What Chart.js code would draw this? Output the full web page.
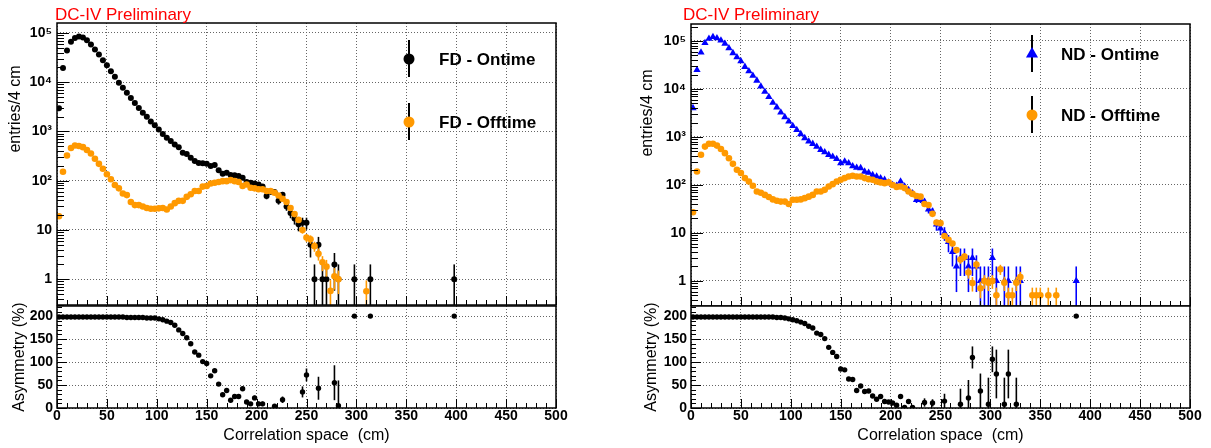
<!DOCTYPE html>
<html>
<head>
<meta charset="utf-8">
<title>DC-IV Preliminary</title>
<script src="https://cdn.jsdelivr.net/npm/chart.js@4.4.1/dist/chart.umd.min.js"></script>
<style>
  html, body { margin: 0; padding: 0; background: #fff; }
  #wrap { position: relative; width: 1211px; height: 448px; overflow: hidden; }
  canvas { position: absolute; }
</style>
</head>
<body>
<div id="wrap">
  <canvas id="fdTop" width="605" height="306" style="left:0;top:0"></canvas>
  <canvas id="fdBot" width="605" height="148" style="left:0;top:300px"></canvas>
  <canvas id="ndTop" width="577" height="306" style="left:634px;top:0"></canvas>
  <canvas id="ndBot" width="577" height="148" style="left:634px;top:300px"></canvas>
</div>
<script>
// Colores
const onColor = '#000000'
const offColor = '#ff9900'
const ndColor = '#0000ff'
const gridColor = '#666666'

// Centros de bin (cm): bins de 4 cm, el indice i corresponde a 2 + 4*i
const binCenters = []
for (let c = 2; c < 500; c += 4) binCenters.push(c)

// FD - Ontime (entradas / 4 cm)
const fdOn = [
  2950, 19500, 44000, 66000, 79000, 85000, 81000, 71000, 58000, 46000,   // 2-38
  36500, 28000, 22000, 16700, 12900, 9700, 7700, 6100, 4750, 3800,      // 42-78
  3000, 2400, 1990, 1590, 1330, 1100, 890, 745, 640, 545,                // 82-118
  480, 370, 350, 293, 250, 230, 225, 220, 200, 208,                      // 122-158
  163, 139, 145, 130, 129, 124, 115, 94, 91, 88,                         // 162-198
  84, 76, 49, 60, 59, 39, 52, 30, 22, 17,                                // 202-238
  13, 14, 14, 5, 1, 5, 1, 1, null, 2,                                    // 242-278
  1, null, null, null, 1, null, null, null, 1, null,                     // 282-318
  null, null, null, null, null, null, null, null, null, null,            // 322-358
  null, null, null, null, null, null, null, null, null, 1                // 362-398
]

// FD - Offtime
const fdOff = [
  19, 152, 325, 460, 520, 505, 480, 420, 357, 280,
  220, 175, 135, 107, 82, 70, 55, 51, 37, 32,
  32, 30, 28, 27, 27, 27.5, 28, 26, 30, 35,
  39, 39, 47, 53, 62, 62, 76, 78, 88, 91,
  94, 98, 98, 103, 98, 94, 78, 84, 72, 70,
  67, 67, 62, 62, 57, 50, 43, 37, 28, 21,
  16, 10, 7, 6.5, 4.7, 3.3, 2.2, 1.8, 0.58, 1.15,
  1.0, null, null, null, null, null, null, 0.57
]

// FD - Asimetria (%) y su error
const fdAsym = [
  198, 198, 198, 198, 198, 198, 198, 198, 198, 198,
  198, 198, 198, 198, 198, 198, 198, 197, 197, 197,
  197, 197, 196, 196, 196, 194, 192, 189, 186, 180,
  170, 162, 153, 140, 122, 115, 101, 97, 70, 81,
  52, 29, 38, 17, 25, 25, 42, 13, 9, 22,
  9, 9, null, null, 4, null, 18, null, null, null,
  null, 35, 72, null, null, 43, null, null, null, 55,
  5, null, null, null, 200, null, null, null, 200, null,
  null, null, null, null, null, null, null, null, null, null,
  null, null, null, null, null, null, null, null, null, 200
]
const fdAsymErr = [
  0, 0, 0, 0, 0, 0, 0, 0, 0, 0,
  0, 0, 0, 0, 0, 0, 0, 0, 0, 0,
  0, 0, 0, 0, 0, 0, 0, 0, 0, 0,
  0, 0, 0, 0, 0, 0, 2, 2, 3, 3,
  3, 4, 4, 4, 4, 4, 5, 4, 4, 5,
  5, 5, 0, 0, 4, 0, 7, 0, 0, 0,
  0, 12, 14, 0, 0, 25, 0, 0, 0, 38,
  55
]

// ND - Ontime
const ndOn = [
  4000, 25000, 58000, 91000, 112000, 121000, 115000, 103000, 88000, 71000,  // 2-38
  56000, 46000, 38000, 29000, 23500, 19000, 15000, 11300, 8800, 6800,       // 42-78
  5200, 4150, 3250, 2600, 2100, 1700, 1400, 1150, 950, 810,                  // 82-118
  720, 630, 540, 480, 425, 390, 350, 285, 310, 285,                          // 122-158
  245, 230, 225, 190, 180, 162, 150, 139, 128, 113,                          // 162-198
  100, 96, 118, 93, 79, 67, 49, 49, 45, 31,                                  // 202-238
  28, 15, 12.5, 10, 6.5, 4, 2, 3, 3, 2,                                      // 242-278
  3, 2, 1, 1, 1, 3, 1, null, 1, 1,                                           // 282-318
  null, 1, 1, null, null, null, null, null, null, null,                      // 322-358
  null, null, null, null, null, null, 1                                      // 362-386
]

// ND - Offtime
const ndOff = [
  27, 190, 425, 630, 720, 720, 660, 560, 460, 360,
  275, 207, 177, 139, 118, 96, 73, 69, 62, 56,
  50, 47, 45, 45, 40, 49, 49, 50, 53, 57,
  62, 73, 73, 79, 93, 104, 118, 128, 139, 150,
  155, 150, 150, 139, 132, 128, 118, 113, 109, 113,
  100, 91, 93, 86, 73, 65, 59, 57, 40, 38,
  25, 16.5, 16, 8.6, 7.2, 6, 4.4, 2.8, 3.2, 1.5,
  0.9, 2.2, 0.7, 1, 0.92, 1, 0.5, 1.75, 0.92, 0.5,
  0.5, 0.92, 1.2, null, null, 0.5, 0.5, 0.5, null, 0.5,
  null, 0.5
]

// ND - Asimetria (%) y su error
const ndAsym = [
  198, 198, 198, 198, 198, 198, 198, 198, 198, 198,
  198, 198, 198, 198, 198, 198, 198, 198, 198, 198,
  198, 197, 197, 196, 194, 192, 190, 187, 184, 178,
  174, 163, 160, 151, 132, 121, 112, 85, 83, 63,
  62, 38, 48, 36, 37, 26, 19, 25, 14, 13,
  11, 6, 25, 1, 14, 1, null, null, 12, null,
  11, null, null, 15, null, null, null, 8, null, 22,
  110, null, 37, null, 8, 106, 74, null, 8, 74,
  null, 8, null, null, null, null, null, null, null, null,
  null, null, null, null, null, null, 200
]
const ndAsymErr = [
  0, 0, 0, 0, 0, 0, 0, 0, 0, 0,
  0, 0, 0, 0, 0, 0, 0, 0, 0, 0,
  0, 0, 0, 0, 0, 0, 0, 0, 0, 0,
  0, 0, 0, 0, 0, 0, 2, 2, 3, 3,
  3, 3, 3, 3, 3, 4, 4, 4, 4, 4,
  3, 3, 4, 2, 5, 2, 0, 0, 9, 0,
  8, 0, 0, 16, 0, 0, 0, 34, 0, 39,
  24, 0, 38, 0, 58, 28, 53, 0, 58, 53,
  0, 58
]

// Etiquetas de ejes
const logTicks = [1, 10, 100, 1000, 10000, 100000]
const logLabels = ['1', '10', '10\u00b2', '10\u00b3', '10\u2074', '10\u2075']
const asymTicks = [0, 50, 100, 150, 200]
const xTicks = [0, 50, 100, 150, 200, 250, 300, 350, 400, 450, 500]

const fontFamily = '"Liberation Sans", Arial, Helvetica, sans-serif'
Chart.defaults.font.family = fontFamily
Chart.defaults.color = '#000'

// Convierte un array por bin en puntos {x, y, e}
function binPoints(values, errScale, errors) {
  const pts = []
  values.forEach((v, i) => {
    if (v === null || v === undefined) return
    const e = errors ? (errors[i] || 0) : Math.sqrt(v * errScale)
    pts.push({ x: binCenters[i], y: v, e: e })
  })
  return pts
}

// Plugin: barras de error, marco estilo ROOT, marcas internas, textos y leyenda
const rootStyle = {
  id: 'rootStyle',
  beforeDatasetDraw(chart, args) {
    const ds = chart.data.datasets[args.index]
    const ys = chart.scales.y
    const a = chart.chartArea
    const ctx = chart.ctx
    ctx.save()
    ctx.beginPath()
    ctx.rect(a.left, a.top, a.right - a.left, a.bottom - a.top)
    ctx.clip()
    ctx.strokeStyle = ds.borderColor
    ctx.lineWidth = 1.6
    args.meta.data.forEach((pt, i) => {
      const d = ds.data[i]
      if (!d || !d.e) return
      const lo = d.y - d.e
      const yLo = lo > ys.min ? ys.getPixelForValue(lo) : a.bottom
      const yHi = ys.getPixelForValue(Math.min(d.y + d.e, ys.max))
      ctx.beginPath()
      ctx.moveTo(pt.x, yLo)
      ctx.lineTo(pt.x, yHi)
      ctx.stroke()
    })
    ctx.restore()
  },
  afterDraw(chart, args, opts) {
    const ctx = chart.ctx
    const a = chart.chartArea
    const xs = chart.scales.x
    const ys = chart.scales.y
    ctx.save()
    ctx.strokeStyle = '#000'
    ctx.lineWidth = 1
    const seg = (x1, y1, x2, y2) => {
      ctx.beginPath(); ctx.moveTo(x1, y1); ctx.lineTo(x2, y2); ctx.stroke()
    }
    // marcas del eje x (dentro del marco)
    for (let v = 0; v <= 500; v += 10) {
      const px = Math.round(xs.getPixelForValue(v)) + 0.5
      seg(px, a.bottom, px, a.bottom - (v % 50 === 0 ? 9 : 5))
    }
    // marcas del eje y
    if (ys.type === 'logarithmic') {
      for (let e = -1; e <= 5; e++) {
        for (let m = 1; m <= 9; m++) {
          const v = m * Math.pow(10, e)
          if (v < ys.min || v > ys.max) continue
          const py = Math.round(ys.getPixelForValue(v)) + 0.5
          seg(a.left, py, a.left + (m === 1 ? 12 : 7), py)
        }
      }
    } else {
      for (let v = 0; v <= ys.max; v += 10) {
        const py = Math.round(ys.getPixelForValue(v)) + 0.5
        seg(a.left, py, a.left + (v % 50 === 0 ? 10 : 5), py)
      }
    }
    // marco
    ctx.lineWidth = 1.5
    ctx.strokeRect(a.left, a.top, a.right - a.left, a.bottom - a.top)

    // textos libres
    ;(opts.texts || []).forEach(t => {
      ctx.save()
      ctx.font = t.font
      ctx.fillStyle = t.color || '#000'
      ctx.textAlign = t.align || 'left'
      ctx.textBaseline = 'middle'
      ctx.translate(t.x, t.y)
      if (t.rotate) ctx.rotate(-Math.PI / 2)
      ctx.fillText(t.text, 0, 0)
      ctx.restore()
    })

    // leyenda: marcador con barra de error vertical y texto en negrita
    ;(opts.legend || []).forEach(it => {
      ctx.strokeStyle = '#000'
      ctx.lineWidth = 2
      seg(it.x, it.y - 19, it.x, it.y + 18)
      ctx.fillStyle = it.color
      ctx.strokeStyle = it.color
      Chart.helpers.drawPoint(ctx, { pointStyle: it.style, radius: it.r, borderWidth: 0, rotation: 0 }, it.x, it.y)
      ctx.fillStyle = '#000'
      ctx.font = 'bold 17px ' + fontFamily
      ctx.textAlign = 'left'
      ctx.textBaseline = 'middle'
      ctx.fillText(it.label, it.textX, it.y + 1)
    })
    ctx.restore()
  }
}

const tickFont = { family: fontFamily, size: 14, weight: 'bold' }

// Quita el margen extra que Chart.js reserva para las etiquetas
function fixY(s) {
  s.width = 57
  s.paddingTop = 0
  s.paddingBottom = 0
}

function xScale(withLabels) {
  return {
    type: 'linear',
    min: 0,
    max: 500,
    afterBuildTicks: s => { s.ticks = xTicks.map(v => ({ value: v })) },
    afterFit: s => {
      s.height = withLabels ? 40 : 0
      s.paddingLeft = 0
      s.paddingRight = 0
    },
    grid: { color: gridColor, lineWidth: 1, drawTicks: false },
    border: { display: false, dash: [1, 2] },
    ticks: { display: withLabels, font: tickFont, padding: 0, maxRotation: 0 },
    title: {
      display: withLabels,
      text: 'Correlation space  (cm)',
      font: { family: fontFamily, size: 16 },
      padding: { top: 0, bottom: 3 }
    }
  }
}

function topChart(id, on, onErr, off, offErr, onStyle, onR, onCol, texts, legend, yMax, padTop) {
  const canvas = document.getElementById(id)
  return new Chart(canvas, {
    type: 'scatter',
    data: {
      datasets: [
        {
          label: 'on',
          data: binPoints(on, onErr),
          order: 1,
          pointStyle: onStyle,
          pointRadius: onR,
          backgroundColor: onCol,
          borderColor: onCol,
          pointBorderWidth: 0
        },
        {
          label: 'off',
          data: binPoints(off, offErr),
          order: 0,
          pointStyle: 'circle',
          pointRadius: 3.3,
          backgroundColor: offColor,
          borderColor: offColor,
          pointBorderWidth: 0
        }
      ]
    },
    options: {
      responsive: false,
      animation: false,
      devicePixelRatio: 1,
      layout: {
        autoPadding: false,
        padding: { left: 0, right: canvas.width - 556, top: padTop, bottom: padTop > 23 ? 0 : 1 }
      },
      scales: {
        x: xScale(false),
        y: {
          type: 'logarithmic',
          min: 0.31,
          max: yMax,
          afterBuildTicks: s => { s.ticks = logTicks.map(v => ({ value: v })) },
          afterFit: fixY,
          grid: { color: gridColor, lineWidth: 1, drawTicks: false },
          border: { display: false, dash: [1, 2] },
          ticks: {
            font: tickFont,
            padding: 5,
            callback: v => logLabels[logTicks.indexOf(v)] || ''
          }
        }
      },
      plugins: {
        legend: { display: false },
        tooltip: { enabled: false },
        rootStyle: { texts: texts, legend: legend }
      }
    },
    plugins: [rootStyle]
  })
}

function bottomChart(id, asym, asymErr, titlePad) {
  const canvas = document.getElementById(id)
  return new Chart(canvas, {
    type: 'scatter',
    data: {
      datasets: [{
        label: 'asym',
        data: binPoints(asym, 0, asymErr),
        pointStyle: 'circle',
        pointRadius: 2.7,
        backgroundColor: '#000',
        borderColor: '#000',
        pointBorderWidth: 0
      }]
    },
    options: {
      responsive: false,
      animation: false,
      devicePixelRatio: 1,
      layout: {
        autoPadding: false,
        padding: { left: 0, right: canvas.width - 556, top: 6, bottom: 0 }
      },
      scales: {
        x: xScale(true),
        y: {
          type: 'linear',
          min: 0,
          max: 222,
          afterBuildTicks: s => { s.ticks = asymTicks.map(v => ({ value: v })) },
          afterFit: fixY,
          grid: { color: gridColor, lineWidth: 1, drawTicks: false },
          border: { display: false, dash: [1, 2] },
          ticks: { font: tickFont, padding: 4 },
          title: {
            display: true,
            text: 'Asymmetry (%)',
            font: { family: fontFamily, size: 16 },
            padding: { top: titlePad, bottom: 0 }
          }
        }
      },
      plugins: {
        legend: { display: false },
        tooltip: { enabled: false },
        rootStyle: {}
      }
    },
    plugins: [rootStyle]
  })
}

const redFont = '17px ' + fontFamily
const yTitleFont = '16px ' + fontFamily

// Panel FD
topChart('fdTop', fdOn, 1, fdOff, 0.25, 'circle', 3, onColor,
  [
    { text: 'DC-IV Preliminary', x: 55, y: 15, font: redFont, color: '#ff0000' },
    { text: 'entries/4 cm', x: 16, y: 109, font: yTitleFont, rotate: true, align: 'center' }
  ],
  [
    { label: 'FD - Ontime', x: 409, y: 59, textX: 439, color: onColor, style: 'circle', r: 5.5 },
    { label: 'FD - Offtime', x: 409, y: 122, textX: 439, color: offColor, style: 'circle', r: 5.5 }
  ],
  1.59e5, 23)
bottomChart('fdBot', fdAsym, fdAsymErr, 10)

// Panel ND
topChart('ndTop', ndOn, 1, ndOff, 0.1, 'triangle', 4.2, ndColor,
  [
    { text: 'DC-IV Preliminary', x: 49, y: 15, font: redFont, color: '#ff0000' },
    { text: 'entries/4 cm', x: 14, y: 113, font: yTitleFont, rotate: true, align: 'center' }
  ],
  [
    { label: 'ND - Ontime', x: 398, y: 54, textX: 427, color: ndColor, style: 'triangle', r: 7 },
    { label: 'ND - Offtime', x: 398, y: 115, textX: 427, color: offColor, style: 'circle', r: 5.5 }
  ],
  2.26e5, 24)
bottomChart('ndBot', ndAsym, ndAsymErr, 8)
</script>
</body>
</html>
